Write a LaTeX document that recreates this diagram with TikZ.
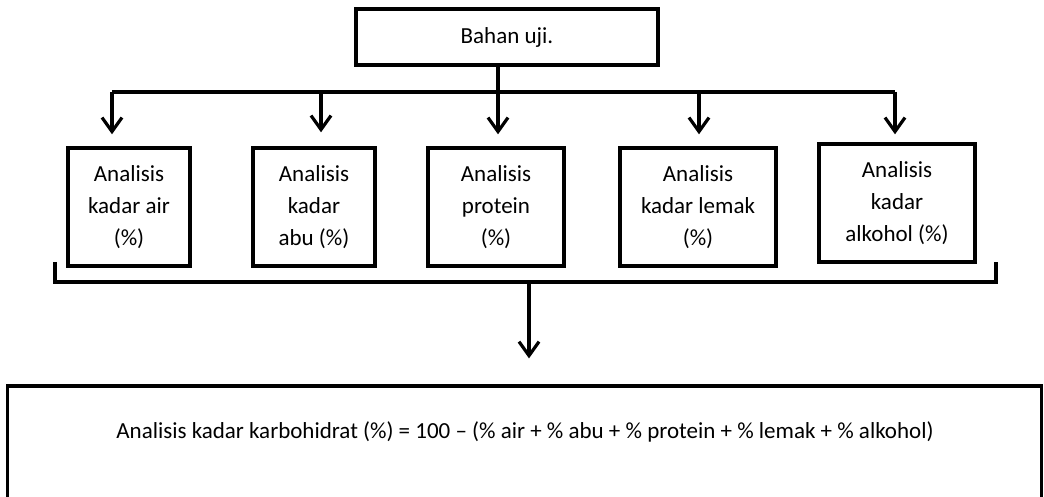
\documentclass[tikz,border=0pt]{standalone}
\usepackage{fontspec}
\setmainfont{Carlito}
\usetikzlibrary{arrows.meta}
\usetikzlibrary{positioning}
\tikzset{->/.style = {-{Straight Barb[length=7pt, width=10pt]}}}
\tikzset{kotak/.style = {draw, line width=1.7pt, align=center, inner sep=0pt,
                         font=\fontsize{11.5pt}{16pt}\selectfont}}

\begin{document}
\begin{tikzpicture}[x=0.5pt, y=-0.5pt, line width=1.6pt]
      \useasboundingbox (0, 0) rectangle (1044, 497);
      \clip (0, 0) rectangle (1044, 497);

      \node [kotak, minimum width=151pt, minimum height=28pt] (bahan) at (507, 37) {Bahan uji.};

      \node [kotak, minimum width=61pt, minimum height=59pt] (air) at (129, 207) {Analisis\\kadar air\\(\%)};
      \node [kotak, minimum width=61pt, minimum height=59pt] (abu) at (314, 207) {Analisis\\kadar\\abu (\%)};
      \node [kotak, minimum width=68pt, minimum height=59pt] (protein) at (496, 207) {Analisis\\protein\\(\%)};
      \node [kotak, minimum width=78pt, minimum height=59pt] (lemak) at (698, 207) {Analisis\\kadar lemak\\(\%)};
      \node [kotak, minimum width=78pt, minimum height=59pt] (alkohol) at (897, 203) {Analisis\\kadar\\alkohol (\%)};

      \node [draw, line width=1.6pt, minimum width=517pt, minimum height=87pt] (hasil) at (524.5, 473) {};
      \node [font=\fontsize{11.5pt}{16pt}\selectfont] (rumus) at (525, 432)
        {Analisis kadar karbohidrat (\%) = 100 -- (\% air + \% abu + \% protein + \% lemak + \% alkohol)};

      % percabangan dari bahan uji
      \coordinate (ke-air) at (112, 92);
      \coordinate (ke-abu) at (321, 92);
      \coordinate (ke-protein) at (498, 92);
      \coordinate (ke-lemak) at (699, 92);
      \coordinate (ke-alkohol) at (895, 92);

      \draw (ke-air) -- (ke-alkohol);
      \draw [->, shorten >=6pt] (ke-protein |- bahan.south) -- (ke-protein |- protein.north);
      \draw [->, shorten >=6pt] (ke-air) -- (ke-air |- air.north);
      \draw [->, shorten >=7pt] (ke-abu) -- (ke-abu |- abu.north);
      \draw [->, shorten >=6pt] (ke-lemak) -- (ke-lemak |- lemak.north);
      \draw [->, shorten >=4pt] (ke-alkohol) -- (ke-alkohol |- alkohol.north);

      % kurung bawah
      \coordinate (kurung-kiri) at (55, 262);
      \coordinate (kurung-kanan) at (996, 262);
      \coordinate (turun) at (529, 282);
      \draw (kurung-kiri) -- ++(0, 20) -| (kurung-kanan);
      \draw [->, shorten >=13pt] (turun) -- (turun |- hasil.north);

    \end{tikzpicture}
\end{document}
